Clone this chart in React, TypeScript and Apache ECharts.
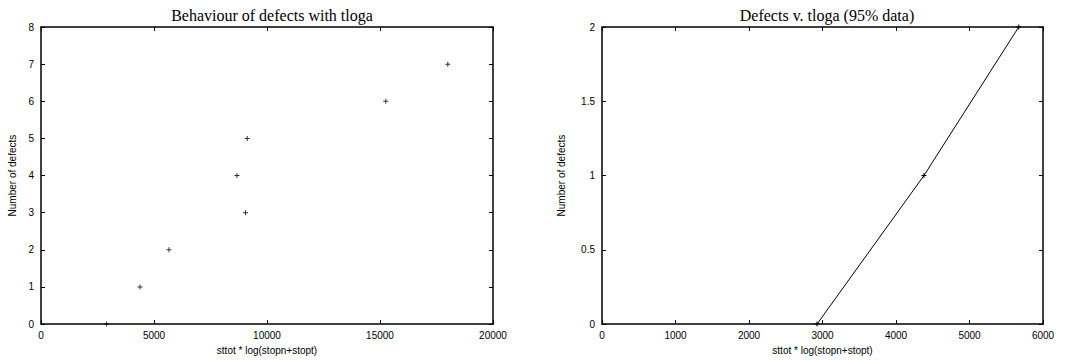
import React, { useEffect, useRef } from "react";
import * as echarts from "echarts";

const leftTitle = "Behaviour of defects with tloga";
const rightTitle = "Defects v. tloga (95% data)";
const xName = "sttot * log(stopn+stopt)";
const yName = "Number of defects";

const leftX = [2900, 4380, 5660, 8670, 9050, 9125, 15255, 18000];
const leftY = [0, 1, 2, 4, 3, 5, 6, 7];
const rightX = [2925, 4380, 5670];
const rightY = [0, 1, 2];

const PLUS = "path://M2,0H3V2H5V3H3V5H2V3H0V2H2Z";
const SANS = "'Liberation Sans', Arial, sans-serif";
const SERIF = "'Liberation Serif', 'Times New Roman', serif";

function axisPair(kind: "x" | "y", gridIndex: number, min: number, max: number, interval: number, nameGap: number) {
  const base = {
    type: "value",
    gridIndex,
    min,
    max,
    interval,
    splitLine: { show: false },
    axisLine: { show: true, onZero: false, lineStyle: { color: "#000", width: 1.5 } },
    axisTick: { show: true, inside: true, length: 4, lineStyle: { color: "#000", width: 1 } },
  };
  const main: any = {
    ...base,
    position: kind === "x" ? "bottom" : "left",
    axisLabel: {
      show: true,
      color: "#000",
      fontSize: 10,
      fontFamily: SANS,
      margin: kind === "x" ? 6 : 7,
      formatter: (v: number) => String(v),
    },
    name: kind === "x" ? xName : yName,
    nameLocation: "middle",
    nameGap,
    nameTextStyle: { color: "#000", fontSize: 10, fontFamily: SANS },
  };
  const mirror: any = {
    ...base,
    position: kind === "x" ? "top" : "right",
    axisLabel: { show: false },
  };
  return [main, mirror];
}

export default function App() {
  const ref = useRef<HTMLDivElement>(null);
  useEffect(() => {
    if (!ref.current) return;
    const chart = echarts.init(ref.current, undefined, { renderer: "svg" });
    const [x0, x1] = axisPair("x", 0, 0, 20000, 5000, 20);
    const [y0, y1] = axisPair("y", 0, 0, 8, 1, 24);
    const [x2, x3] = axisPair("x", 1, 0, 6000, 1000, 20);
    const [y2, y3] = axisPair("y", 1, 0, 2, 0.5, 36);
    chart.setOption({
      animation: false,
      backgroundColor: "#fff",
      title: [
        {
          text: leftTitle,
          left: 267,
          top: 2,
          textAlign: "center",
          textStyle: { fontFamily: SERIF, fontSize: 16, fontWeight: "normal", color: "#000" },
        },
        {
          text: rightTitle,
          left: 822,
          top: 2,
          textAlign: "center",
          textStyle: { fontFamily: SERIF, fontSize: 16, fontWeight: "normal", color: "#000" },
        },
      ],
      grid: [
        { left: 41, top: 27, width: 452, height: 300 },
        { left: 602, top: 27, width: 441, height: 300 },
      ],
      xAxis: [x0, x1, x2, x3],
      yAxis: [y0, y1, y2, y3],
      series: [
        {
          type: "scatter",
          xAxisIndex: 0,
          yAxisIndex: 0,
          symbol: PLUS,
          symbolSize: 5,
          itemStyle: { color: "#000" },
          data: leftX.map((x, i) => [x, leftY[i]]),
        },
        {
          type: "line",
          xAxisIndex: 2,
          yAxisIndex: 2,
          symbol: PLUS,
          symbolSize: 5,
          showSymbol: true,
          itemStyle: { color: "#000" },
          lineStyle: { color: "#000", width: 1 },
          data: rightX.map((x, i) => [x, rightY[i]]),
        },
      ],
    });
    return () => chart.dispose();
  }, []);
  return (
    <div
      ref={ref}
      style={{ position: "fixed", left: 0, top: 0, width: 1068, height: 360, background: "#fff" }}
    />
  );
}
